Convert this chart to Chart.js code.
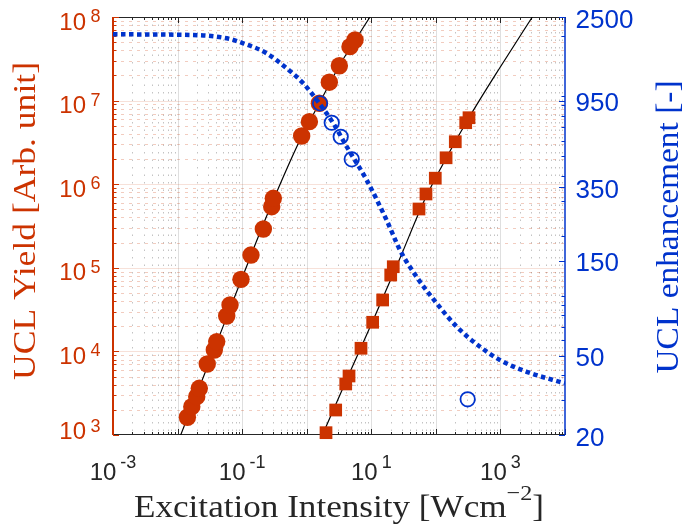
<!DOCTYPE html>
<html><head><meta charset="utf-8">
<script src="https://cdn.jsdelivr.net/npm/chart.js@4/dist/chart.umd.min.js"></script>
<style>html,body{margin:0;padding:0;background:#fff;overflow:hidden}canvas{display:block}</style>
</head><body>
<canvas id="c" width="687" height="526"></canvas>
<script>
// ---------- data ----------
const circleIntensity = [0.0142, 0.0166, 0.0198, 0.0217, 0.0288, 0.0371, 0.0404, 0.0577, 0.0649, 0.096, 0.137, 0.213, 0.287, 0.304, 0.835, 1.10, 1.57, 2.24, 3.20, 4.68, 5.60];
const circleYield = [1630, 2180, 2870, 3620, 7070, 10400, 13100, 26500, 35900, 72800, 142000, 291000, 538000, 678000, 3770000, 5600000, 9300000, 16600000, 26100000, 44200000, 53100000];
const squareIntensity = [1.99, 2.81, 4.02, 4.52, 6.93, 10.5, 15.0, 20.0, 21.9, 54.8, 70.3, 98, 144, 200, 290, 326];
const squareYield = [1066, 1990, 4080, 5080, 10900, 22300, 41200, 82000, 103000, 505000, 764000, 1180000, 2070000, 3220000, 5440000, 6240000];
const fit1Intensity = [0.01092, 0.0318, 0.0995, 0.270, 0.787, 1.607, 3.28, 5.60, 9.55];
const fit1Yield = [955, 7890, 75500, 519000, 3380000, 9620000, 27000000, 52400000, 100000000];
const fit2Intensity = [1.706, 4.68, 11.4, 27.9, 67.9, 166, 338, 985, 3119];
const fit2Yield = [955, 5680, 26500, 131000, 665000, 2490000, 6550000, 24900000, 100000000];
const enhIntensity = [1.61, 2.44, 3.36, 4.98, 311];
const enhValue = [922, 737, 627, 483, 30.2];
const curveIntensity = [0.001, 0.0175, 0.0577, 0.104, 0.240, 0.490, 0.885, 1.43, 2.58, 4.16, 8.49, 17.5, 27.9, 50.5, 103, 210, 483, 985, 2550, 10000];
const curveEnh = [2047, 2030, 1954, 1845, 1643, 1382, 1162, 958, 732, 559, 380, 237, 169, 124, 91.5, 69.9, 55.4, 47.5, 41.5, 36.3];
const xTickExps = [-3, -1, 1, 3];
const yTickExps = [3, 4, 5, 6, 7, 8];
const y2Ticks = [20, 50, 150, 350, 950, 2500];
const xTitle = ['Excitation Intensity [Wcm', '\u22122', ']'];
const yTitle = 'UCL Yield [Arb. unit]';
const y2Title = 'UCL enhancement [-]';

// ---------- style ----------
const ORANGE = '#cc3300';
const BLUE = '#0033cc';
const DARK = '#262626';
const SANS = '"Liberation Sans", Arial, sans-serif';
const SERIF = '"Liberation Serif", "Times New Roman", serif';

const zip = (a, b) => a.map((v, i) => ({x: v, y: b[i]}));

function drawParts(ctx, parts, totalW) {
  let W = 0;
  parts.forEach(p => { ctx.font = p.font; p.w = ctx.measureText(p.t).width; W += p.w; });
  const s = totalW / W;
  ctx.scale(s, 1);
  let x = -W / 2;
  ctx.textAlign = 'left';
  ctx.textBaseline = 'alphabetic';
  parts.forEach(p => { ctx.font = p.font; ctx.fillText(p.t, x, p.dy); x += p.w; });
}

const deco = {
  id: 'deco',
  beforeDatasetsDraw(chart) {
    const {ctx, chartArea: a, scales} = chart;
    const sx = scales.x, sy = scales.y, sy2 = scales.y2;
    ctx.save();
    ctx.lineWidth = 1;
    ctx.strokeStyle = 'rgba(38,38,38,0.28)';
    ctx.setLineDash([1.5, 6]);
    for (let e = -3; e < 4; e++) for (let k = 2; k <= 9; k++) {
      const px = Math.round(sx.getPixelForValue(k * Math.pow(10, e))) + 0.5;
      ctx.beginPath(); ctx.moveTo(px, a.top); ctx.lineTo(px, a.bottom); ctx.stroke();
    }
    ctx.strokeStyle = 'rgba(204,51,0,0.25)';
    ctx.setLineDash([3, 5]);
    for (let e = 3; e < 8; e++) for (let k = 2; k <= 9; k++) {
      const py = Math.round(sy.getPixelForValue(k * Math.pow(10, e))) + 0.5;
      ctx.beginPath(); ctx.moveTo(a.left, py); ctx.lineTo(a.right, py); ctx.stroke();
    }
    ctx.setLineDash([]);
    ctx.strokeStyle = 'rgba(38,38,38,0.15)';
    for (let e = -2; e <= 3; e++) {
      const px = Math.round(sx.getPixelForValue(Math.pow(10, e))) + 0.5;
      ctx.beginPath(); ctx.moveTo(px, a.top); ctx.lineTo(px, a.bottom); ctx.stroke();
    }
    ctx.strokeStyle = 'rgba(204,51,0,0.15)';
    for (let e = 4; e <= 7; e++) {
      const py = Math.round(sy.getPixelForValue(Math.pow(10, e))) + 0.5;
      ctx.beginPath(); ctx.moveTo(a.left, py); ctx.lineTo(a.right, py); ctx.stroke();
    }
    ctx.strokeStyle = DARK; ctx.lineWidth = 1;
    ctx.beginPath(); ctx.moveTo(a.left, a.top + 0.5); ctx.lineTo(a.right, a.top + 0.5); ctx.stroke();
    ctx.beginPath(); ctx.moveTo(a.left, a.bottom - 0.5); ctx.lineTo(a.right, a.bottom - 0.5); ctx.stroke();
    for (let e = -3; e <= 4; e++) for (let k = 1; k <= 9; k++) {
      const v = k * Math.pow(10, e);
      if (v > 1e4 + 1) continue;
      const px = Math.round(sx.getPixelForValue(v)) + 0.5;
      const L = k === 1 ? 6 : 3;
      ctx.beginPath(); ctx.moveTo(px, a.bottom); ctx.lineTo(px, a.bottom - L); ctx.stroke();
      ctx.beginPath(); ctx.moveTo(px, a.top); ctx.lineTo(px, a.top + L); ctx.stroke();
    }
    ctx.strokeStyle = ORANGE; ctx.lineWidth = 2;
    ctx.beginPath(); ctx.moveTo(a.left, a.top); ctx.lineTo(a.left, a.bottom); ctx.stroke();
    ctx.lineWidth = 1;
    for (let e = 3; e <= 8; e++) for (let k = 1; k <= 9; k++) {
      const v = k * Math.pow(10, e);
      if (v > 1e8 + 1) continue;
      const py = Math.round(sy.getPixelForValue(v)) + 0.5;
      const L = k === 1 ? 6 : 3.5;
      ctx.beginPath(); ctx.moveTo(a.left, py); ctx.lineTo(a.left + L, py); ctx.stroke();
    }
    ctx.strokeStyle = BLUE; ctx.lineWidth = 1.5;
    ctx.beginPath(); ctx.moveTo(a.right, a.top); ctx.lineTo(a.right, a.bottom); ctx.stroke();
    ctx.lineWidth = 1;
    for (let e = 1; e <= 3; e++) for (let k = 1; k <= 9; k++) {
      const v = k * Math.pow(10, e);
      if (v < 20 || v > 2500) continue;
      const py = Math.round(sy2.getPixelForValue(v)) + 0.5;
      ctx.beginPath(); ctx.moveTo(a.right, py); ctx.lineTo(a.right - 3.5, py); ctx.stroke();
    }
    y2Ticks.forEach(v => {
      const py = Math.round(sy2.getPixelForValue(v)) + 0.5;
      ctx.beginPath(); ctx.moveTo(a.right, py); ctx.lineTo(a.right - 6, py); ctx.stroke();
    });
    ctx.restore();
  },
  afterDraw(chart) {
    const {ctx, chartArea: a, scales} = chart;
    const sx = scales.x, sy = scales.y, sy2 = scales.y2;
    ctx.save();
    ctx.textBaseline = 'alphabetic';
    ctx.fillStyle = ORANGE;
    yTickExps.forEach(e => {
      const py = sy.getPixelForValue(Math.pow(10, e));
      const base = e === 3 ? 439 : py + 12.5;
      ctx.textAlign = 'right';
      ctx.font = '18px ' + SANS;
      const es = String(e);
      const ew = ctx.measureText(es).width;
      ctx.fillText(es, 100.5, base - 7.5);
      ctx.font = '24px ' + SANS;
      ctx.fillText('10', 100.5 - ew - 4.5, base);
    });
    ctx.fillStyle = DARK;
    xTickExps.forEach(e => {
      const px = sx.getPixelForValue(Math.pow(10, e));
      const es = String(e);
      ctx.font = '24px ' + SANS; const mw = ctx.measureText('10').width;
      ctx.font = '18px ' + SANS; const ew = ctx.measureText(es).width;
      const gap = 4;
      const start = px - (mw + gap + ew) / 2;
      ctx.textAlign = 'left';
      ctx.font = '24px ' + SANS; ctx.fillText('10', start, 480);
      ctx.font = '18px ' + SANS; ctx.fillText(es, start + mw + gap, 468);
    });
    ctx.fillStyle = BLUE;
    ctx.font = '26px ' + SANS;
    ctx.textAlign = 'left';
    y2Ticks.forEach(v => {
      const py = sy2.getPixelForValue(v);
      ctx.fillText(String(v), 575.5, py + 10.5);
    });
    ctx.save();
    ctx.fillStyle = DARK;
    ctx.translate((a.left + a.right) / 2, 517);
    drawParts(ctx, [
      {t: xTitle[0], font: '32px ' + SERIF, dy: 0},
      {t: xTitle[1], font: '22px ' + SERIF, dy: -17},
      {t: xTitle[2], font: '32px ' + SERIF, dy: 0}
    ], 410);
    ctx.restore();
    ctx.save();
    ctx.fillStyle = ORANGE;
    ctx.translate(35, 221);
    ctx.rotate(-Math.PI / 2);
    drawParts(ctx, [{t: yTitle, font: '32px ' + SERIF, dy: 0}], 318);
    ctx.restore();
    ctx.save();
    ctx.fillStyle = BLUE;
    ctx.translate(678, 227);
    ctx.rotate(-Math.PI / 2);
    drawParts(ctx, [{t: y2Title, font: '32px ' + SERIF, dy: 0}], 293);
    ctx.restore();
    ctx.restore();
  }
};

new Chart(document.getElementById('c'), {
  type: 'scatter',
  data: {
    datasets: [
      {type: 'line', label: 'Enhancement', data: zip(curveIntensity, curveEnh), yAxisID: 'y2',
       borderColor: BLUE, borderWidth: 4.5, borderDash: [4.5, 3.5], pointRadius: 0, fill: false,
       cubicInterpolationMode: 'monotone'},
      {type: 'scatter', label: 'Enhancement data', data: zip(enhIntensity, enhValue), yAxisID: 'y2',
       pointStyle: 'circle', pointRadius: 7.2, borderWidth: 1.8, borderColor: BLUE,
       backgroundColor: 'rgba(0,0,0,0)', clip: false},
      {type: 'scatter', label: 'Yield (circles)', data: zip(circleIntensity, circleYield), yAxisID: 'y',
       pointStyle: 'circle', pointRadius: 8.7, borderWidth: 0, borderColor: ORANGE,
       backgroundColor: ORANGE, clip: false},
      {type: 'scatter', label: 'Yield (squares)', data: zip(squareIntensity, squareYield), yAxisID: 'y',
       pointStyle: 'rect', pointRadius: 9, borderWidth: 0, borderColor: ORANGE,
       backgroundColor: ORANGE, clip: false},
      {type: 'line', label: 'Fit 1', data: zip(fit1Intensity, fit1Yield), yAxisID: 'y',
       borderColor: '#000', borderWidth: 1.2, pointRadius: 0, fill: false, cubicInterpolationMode: 'monotone'},
      {type: 'line', label: 'Fit 2', data: zip(fit2Intensity, fit2Yield), yAxisID: 'y',
       borderColor: '#000', borderWidth: 1.2, pointRadius: 0, fill: false, cubicInterpolationMode: 'monotone'}
    ]
  },
  options: {
    responsive: false,
    devicePixelRatio: 1,
    animation: false,
    events: [],
    layout: {padding: {left: 113, right: 122, top: 17, bottom: 91}},
    plugins: {legend: {display: false}, tooltip: {enabled: false}},
    scales: {
      x: {type: 'logarithmic', min: 1e-3, max: 1e4, display: false},
      y: {type: 'logarithmic', position: 'left', min: 1e3, max: 1e8, display: false},
      y2: {type: 'logarithmic', position: 'right', min: 20, max: 2500, display: false}
    }
  },
  plugins: [deco]
});
</script>
</body></html>
